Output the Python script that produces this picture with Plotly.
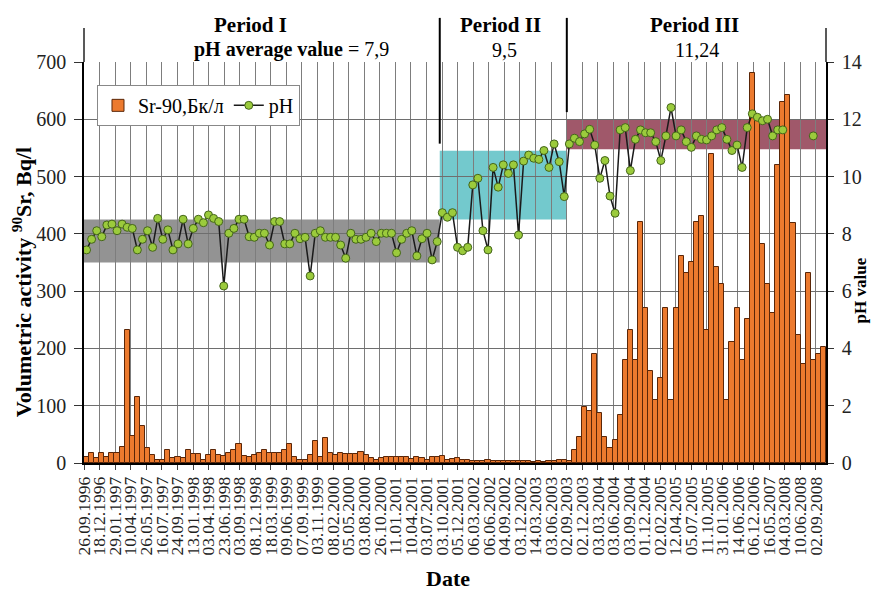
import plotly.graph_objects as go
import numpy as np

# ---------------- data ----------------
tick_labels = [
    "26.09.1996", "18.12.1996", "29.01.1997", "10.04.1997", "26.05.1997", "16.07.1997",
    "24.09.1997", "13.01.1998", "03.04.1998", "23.06.1998", "03.09.1998", "08.12.1998",
    "18.03.1999", "09.06.1999", "07.09.1999", "03.11.1999", "08.02.2000", "05.05.2000",
    "03.08.2000", "26.10.2000", "11.01.2001", "10.04.2001", "03.07.2001", "03.10.2001",
    "05.12.2001", "06.03.2002", "06.06.2002", "04.09.2002", "03.12.2002", "14.03.2003",
    "03.06.2003", "02.09.2003", "02.12.2003", "03.03.2004", "03.06.2004", "03.09.2004",
    "01.12.2004", "02.02.2005", "12.04.2005", "05.07.2005", "11.10.2005", "31.01.2006",
    "14.06.2006", "06.12.2006", "16.05.2007", "04.03.2008", "10.06.2008", "02.09.2008",
]

sr90_period_1_2 = [
    11, 18, 8, 17, 10, 18, 18, 28, 232, 48, 115, 65, 27, 14, 5, 5, 23, 8, 11, 8,
    23, 15, 15, 5, 14, 23, 14, 13, 17, 23, 33, 13, 11, 14, 18, 23, 18, 17, 18, 23,
    33, 11, 6, 5, 14, 38, 10, 43, 17,
    14, 18, 16, 16, 16, 19, 14, 8, 5, 8, 10, 10, 10, 11, 11, 7, 10, 8, 5, 11,
    11, 12, 5, 7, 8, 5, 5, 4, 4, 4, 5, 3, 3, 3, 3, 3, 3, 3, 3, 2,
    3, 2, 3, 3, 5, 5, 3,
]
sr90_period_3 = [
    22, 45, 98, 91, 190, 88, 46, 26, 40, 84, 180, 232, 180, 420, 271, 161, 110, 148,
    271, 110, 271, 362, 332, 351, 420, 432, 232, 540, 342, 312, 110, 212, 271, 180,
    251, 680, 598, 382, 312, 261, 520, 630, 642, 419, 223, 173, 331, 180, 190, 202,
]
sr90 = sr90_period_1_2 + sr90_period_3

ph_values = [
    7.44, 7.81, 8.11, 7.90, 8.31, 8.34, 8.11, 8.34, 8.23, 8.19,
    7.44, 7.81, 8.11, 7.53, 8.54, 7.81, 8.14, 7.44, 7.65, 8.51,
    7.65, 8.19, 8.51, 8.39, 8.66, 8.54, 8.43, 6.18, 8.02, 8.19,
    8.51, 8.51, 7.90, 7.88, 8.02, 8.02, 7.61, 8.43, 8.43, 7.65,
    7.65, 8.02, 7.83, 7.88, 6.53, 8.02, 8.11, 7.88, 7.88, 7.88,
    7.61, 7.15, 8.02, 7.81, 7.81, 7.88, 8.02, 7.73, 8.02, 8.02,
    8.02, 7.34, 7.81, 8.02, 8.11, 7.23, 7.83, 8.02, 7.09, 7.73,
    8.74, 8.58,
    8.74, 7.53, 7.41, 7.53, 9.71, 9.94, 8.11, 7.44, 10.32, 9.63,
    10.41, 10.11, 10.41, 7.96, 10.54, 10.75, 10.64, 10.60, 10.91, 10.32,
    11.14, 10.52, 9.30,
    11.14, 11.34, 11.22, 11.49, 11.65, 11.10, 9.94, 10.56, 9.32, 8.72,
    11.63, 11.71, 10.21, 11.30, 11.63, 11.53, 11.53, 11.22, 10.56, 11.42,
    12.41, 11.42, 11.63, 11.22, 11.02, 11.42, 11.30, 11.28, 11.42, 11.63,
    11.71, 11.30, 10.91, 11.10, 10.32, 11.71, 12.19, 12.07, 11.95, 12.00,
    11.42, 11.63, 11.63, None, None, None, None, None, 11.42, None, None,
]

# period boundaries (in sample-index units) and pH bands
period_bounds = [-0.5, 69.5, 94.5, 145.5]
band_low = [7.0, 8.5, 10.95]
band_high = [8.5, 10.9, 12.0]
band_colors = ["rgba(135,135,135,0.9)", "rgba(100,195,200,0.9)", "rgba(150,70,90,0.9)"]

period_titles = ["<b>Period I</b>", "<b>Period II</b>", "<b>Period III</b>"]
period_avg = ["<b>pH average value</b> = 7,9", "9,5", "11,24"]

# ---------------- figure ----------------
n = len(sr90)
idx = list(range(n))
FONT = "Liberation Serif, Times New Roman, serif"

fig = go.Figure()
fig.add_trace(go.Bar(
    x=idx, y=sr90, name="Sr-90,Бк/л",
    marker=dict(color="#EC7A2E", line=dict(color="#5A2608", width=1)),
    yaxis="y",
))
fig.add_trace(go.Scatter(
    x=idx, y=ph_values, name="pH", mode="lines+markers",
    line=dict(color="#1A1A1A", width=1.5),
    marker=dict(size=8, color="#9BCB3C", line=dict(color="#44651A", width=1)),
    connectgaps=False, yaxis="y2",
))

x_lo, x_hi = period_bounds[0], period_bounds[-1]
tickvals = list(np.linspace(x_lo, 143.5, len(tick_labels)))

shapes = []
for i in range(3):
    shapes.append(dict(type="rect", xref="x", yref="y2",
                       x0=period_bounds[i], x1=period_bounds[i + 1],
                       y0=band_low[i], y1=band_high[i],
                       fillcolor=band_colors[i], line=dict(width=0), layer="below"))
# period separators
for i in (1, 2):
    shapes.append(dict(type="line", xref="x", yref="paper",
                       x0=period_bounds[i], x1=period_bounds[i],
                       y0=(band_high[i] + 0.25) / 14.0, y1=1.11,
                       line=dict(color="black", width=2)))
# axis extensions above plot area
for xp in (0, 1):
    shapes.append(dict(type="line", xref="paper", yref="paper",
                       x0=xp, x1=xp, y0=1.0, y1=1.085,
                       line=dict(color="#222", width=1.5)))

annotations = []
title_x = [0.224, 0.561, 0.823]
avg_x = [0.280, 0.567, 0.826]
for i in range(3):
    annotations.append(dict(text=period_titles[i], x=title_x[i], y=1.092, xref="paper", yref="paper",
                             xanchor="center", yanchor="middle", showarrow=False,
                             font=dict(family=FONT, size=21, color="black")))
    annotations.append(dict(text=period_avg[i], x=avg_x[i], y=1.030, xref="paper", yref="paper",
                             xanchor="center", yanchor="middle", showarrow=False,
                             font=dict(family=FONT, size=20, color="black")))
annotations.append(dict(text="<b>Volumetric activity <sup>90</sup>Sr, Bq/l</b>", textangle=-90,
                        x=-0.084, y=0.45, xref="paper", yref="paper", showarrow=False,
                        xanchor="center", yanchor="middle",
                        font=dict(family=FONT, size=22, color="black")))
annotations.append(dict(text="<b>pH value</b>", textangle=-90,
                        x=1.047, y=0.43, xref="paper", yref="paper", showarrow=False,
                        xanchor="center", yanchor="middle",
                        font=dict(family=FONT, size=17, color="black")))
annotations.append(dict(text="<b>Date</b>", x=0.49, y=-0.287, xref="paper", yref="paper",
                        xanchor="center", yanchor="middle", showarrow=False,
                        font=dict(family=FONT, size=22, color="black")))

fig.update_layout(
    width=874, height=593,
    margin=dict(l=84, r=48, t=62, b=130),
    paper_bgcolor="white", plot_bgcolor="white",
    bargap=0.0,
    font=dict(family=FONT, color="black"),
    showlegend=True,
    legend=dict(orientation="h", x=0.0175, y=0.943, xanchor="left", yanchor="top",
                bgcolor="white", bordercolor="#888", borderwidth=1,
                font=dict(family=FONT, size=20, color="black"),
                itemwidth=30, tracegroupgap=0),
    xaxis=dict(range=[x_lo, x_hi], tickmode="array", tickvals=tickvals, ticktext=tick_labels,
               tickangle=-90, tickfont=dict(family=FONT, size=17.5, color="#222"),
               showgrid=True, gridcolor="#7d7d7d", gridwidth=1,
               showline=True, linecolor="black", linewidth=1.5,
               ticks="outside", ticklen=5, tickcolor="#444", automargin=False, zeroline=False),
    yaxis=dict(range=[0, 700], dtick=100, tickfont=dict(family=FONT, size=20, color="#222"),
               showgrid=True, gridcolor="#6e6e6e", gridwidth=1,
               showline=True, linecolor="black", linewidth=1.5,
               ticks="outside", ticklen=8, tickcolor="#333", ticklabelstandoff=4,
               automargin=False, zeroline=False),
    yaxis2=dict(range=[0, 14], dtick=2, overlaying="y", side="right",
                tickfont=dict(family=FONT, size=20, color="#222"),
                showgrid=False, showline=True, linecolor="black", linewidth=1.5,
                ticks="outside", ticklen=6, tickcolor="#333", ticklabelstandoff=4,
                automargin=False, zeroline=False),
    shapes=shapes,
    annotations=annotations,
)

fig.write_html("out.html")
